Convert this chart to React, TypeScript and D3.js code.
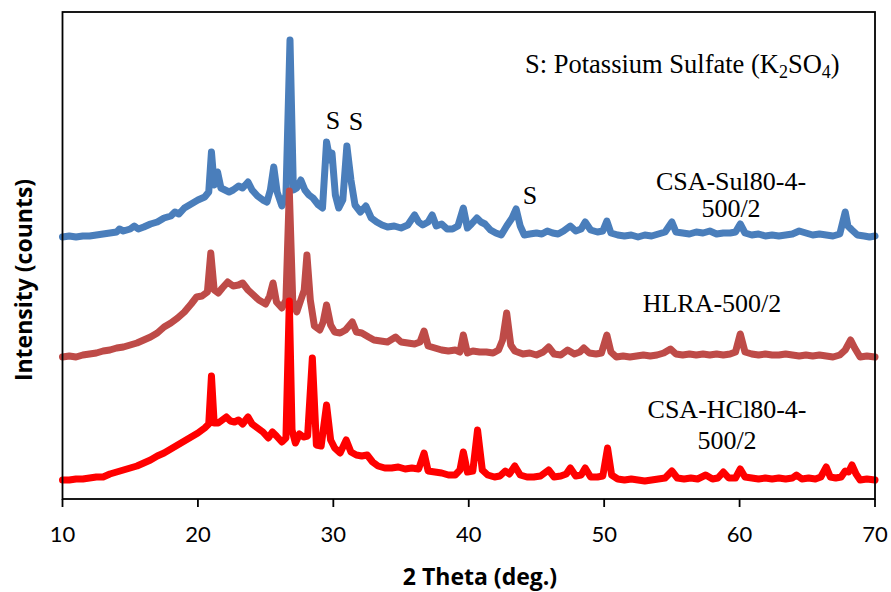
import React from "react";
import * as d3 from "d3";

// XRD patterns: [2θ (deg), intensity (a.u.)], each drawn on its own offset baseline
const sulSample: [number, number][] = [
  [10, 22], [10.5, 23], [11, 22], [11.5, 23], [12, 23], [12.5, 24], [13, 25], [13.5, 26], [14, 27], [14.2, 30],
  [14.5, 28], [15, 30], [15.3, 33], [15.6, 30], [16, 32], [16.5, 35], [17, 37], [17.5, 41], [18, 43], [18.3, 47],
  [18.6, 45], [19, 51], [19.5, 55], [20, 59], [20.5, 62], [20.8, 67], [21.0, 107], [21.2, 74], [21.45, 87], [21.7, 71],
  [22.0, 69], [22.3, 67], [22.6, 69], [23.0, 73], [23.3, 71], [23.7, 77], [24.0, 69], [24.4, 63], [24.8, 59], [25.1, 57],
  [25.35, 69], [25.6, 92], [25.85, 67], [26.2, 53], [26.5, 64], [26.8, 219], [27.05, 69], [27.3, 71], [27.6, 79], [27.9, 69],
  [28.2, 64], [28.5, 61], [28.9, 54], [29.2, 51], [29.5, 117], [29.75, 99], [29.9, 106], [30.15, 64], [30.4, 51], [30.7, 59],
  [31.0, 113], [31.3, 79], [31.6, 54], [32.0, 47], [32.4, 53], [32.8, 41], [33.2, 37], [33.6, 34], [34.0, 32], [34.5, 33],
  [35.0, 31], [35.5, 34], [36.0, 44], [36.3, 37], [36.6, 34], [37.0, 37], [37.3, 44], [37.6, 33], [38.0, 35], [38.4, 30],
  [38.8, 30], [39.2, 33], [39.6, 51], [39.9, 31], [40.2, 35], [40.6, 41], [40.9, 37], [41.2, 35], [41.6, 29], [42.0, 26],
  [42.4, 24], [42.8, 33], [43.2, 41], [43.5, 50], [43.8, 33], [44.1, 24], [44.5, 25], [45.0, 26], [45.4, 25], [45.8, 28],
  [46.2, 26], [46.6, 25], [47.0, 28], [47.5, 33], [47.9, 28], [48.3, 30], [48.6, 37], [49.0, 29], [49.5, 27], [49.9, 28],
  [50.2, 38], [50.5, 26], [51.0, 24], [51.5, 23], [52.0, 24], [52.5, 22], [53.0, 24], [53.5, 23], [54.0, 25], [54.5, 27],
  [55.0, 37], [55.3, 27], [55.8, 26], [56.3, 25], [56.8, 27], [57.3, 26], [57.8, 28], [58.3, 25], [58.8, 26], [59.3, 26],
  [59.7, 27], [60.05, 35], [60.4, 26], [60.9, 24], [61.4, 25], [61.9, 23], [62.4, 24], [62.9, 23], [63.4, 24], [63.9, 25],
  [64.4, 28], [64.9, 26], [65.4, 24], [65.9, 25], [66.4, 24], [66.9, 23], [67.4, 25], [67.8, 47], [68.0, 33], [68.3, 29],
  [68.7, 24], [69.2, 23], [69.6, 22], [70.0, 23],
];

const hlraSample: [number, number][] = [
  [10, 22], [10.5, 23], [11, 22], [11.5, 24], [12, 25], [12.5, 26], [13, 28], [13.5, 29], [14, 31], [14.5, 32],
  [15, 34], [15.5, 36], [16, 39], [16.5, 42], [17, 46], [17.5, 52], [18, 56], [18.5, 61], [19, 67], [19.5, 75],
  [19.9, 82], [20.3, 83], [20.7, 87], [20.95, 126], [21.2, 89], [21.5, 86], [21.8, 91], [22.2, 97], [22.6, 93], [23.0, 94],
  [23.3, 96], [23.7, 89], [24.1, 84], [24.5, 79], [25.0, 75], [25.3, 83], [25.55, 96], [25.8, 77], [26.2, 71], [26.5, 79],
  [26.75, 188], [27.0, 79], [27.3, 67], [27.6, 79], [27.85, 89], [28.05, 124], [28.3, 79], [28.6, 53], [29.0, 49], [29.25, 57],
  [29.5, 74], [29.8, 54], [30.1, 47], [30.5, 46], [30.9, 49], [31.4, 57], [31.7, 47], [32.1, 46], [32.6, 42], [33.0, 39],
  [33.5, 38], [34.0, 37], [34.6, 42], [35.0, 37], [35.5, 36], [36.0, 35], [36.4, 37], [36.7, 48], [37.0, 33], [37.5, 31],
  [38.0, 29], [38.5, 28], [39.0, 29], [39.35, 27], [39.6, 44], [39.9, 26], [40.3, 28], [40.8, 27], [41.3, 27], [41.8, 26],
  [42.2, 29], [42.5, 39], [42.8, 66], [43.1, 34], [43.4, 28], [44.0, 25], [44.5, 26], [45.0, 24], [45.5, 27], [45.9, 32],
  [46.3, 25], [46.8, 24], [47.3, 29], [47.8, 25], [48.2, 27], [48.5, 31], [48.9, 26], [49.4, 25], [49.8, 26], [50.2, 44],
  [50.5, 27], [50.9, 22], [51.4, 23], [51.9, 22], [52.4, 23], [52.9, 24], [53.4, 23], [53.9, 24], [54.4, 26], [54.9, 30],
  [55.3, 25], [55.8, 24], [56.3, 25], [56.8, 24], [57.3, 25], [57.8, 24], [58.3, 25], [58.8, 24], [59.3, 25], [59.7, 27],
  [60.05, 45], [60.4, 27], [60.9, 25], [61.4, 24], [61.9, 25], [62.4, 24], [62.9, 24], [63.4, 25], [63.9, 24], [64.4, 23],
  [64.9, 24], [65.4, 23], [65.9, 24], [66.4, 23], [66.9, 22], [67.4, 24], [67.8, 29], [68.2, 39], [68.5, 31], [68.9, 22],
  [69.4, 23], [70.0, 22],
];

const hclSample: [number, number][] = [
  [10, 19], [10.5, 19], [11, 20], [11.5, 20], [12, 21], [12.5, 22], [13, 22], [13.5, 25], [14, 27], [14.5, 29],
  [15, 31], [15.5, 33], [16, 36], [16.5, 39], [17, 43], [17.5, 46], [18, 50], [18.5, 54], [19, 58], [19.5, 62],
  [20, 66], [20.5, 71], [20.8, 75], [21.0, 123], [21.2, 76], [21.5, 76], [21.8, 79], [22.1, 82], [22.4, 78], [22.7, 77],
  [23.0, 79], [23.3, 75], [23.7, 82], [24.0, 75], [24.4, 71], [24.8, 67], [25.2, 61], [25.5, 67], [25.8, 63], [26.2, 57],
  [26.5, 61], [26.75, 198], [26.95, 69], [27.2, 56], [27.5, 65], [27.8, 62], [28.1, 63], [28.45, 141], [28.75, 54], [29.1, 53],
  [29.5, 94], [29.8, 59], [30.1, 51], [30.5, 46], [30.95, 59], [31.3, 47], [31.7, 44], [32.1, 43], [32.5, 44], [32.9, 37],
  [33.3, 33], [33.8, 31], [34.3, 31], [34.8, 32], [35.3, 30], [35.8, 31], [36.3, 30], [36.7, 46], [37.0, 28], [37.5, 27],
  [38.0, 26], [38.5, 24], [39.0, 24], [39.35, 29], [39.6, 47], [39.9, 27], [40.3, 28], [40.65, 69], [41.0, 29], [41.4, 24],
  [41.9, 22], [42.3, 23], [42.7, 28], [43.0, 25], [43.4, 33], [43.8, 24], [44.3, 22], [44.8, 22], [45.3, 23], [45.9, 29],
  [46.3, 22], [46.8, 23], [47.2, 25], [47.5, 31], [47.9, 23], [48.3, 24], [48.6, 31], [49.0, 22], [49.5, 22], [49.9, 23],
  [50.25, 51], [50.55, 24], [51.0, 20], [51.5, 19], [52.0, 20], [52.5, 19], [53.0, 18], [53.5, 19], [54.0, 20], [54.5, 21],
  [55.0, 28], [55.4, 21], [55.9, 20], [56.4, 21], [56.9, 20], [57.5, 24], [58.0, 20], [58.4, 21], [58.8, 27], [59.2, 21],
  [59.7, 21], [60.05, 30], [60.4, 22], [60.9, 21], [61.4, 20], [61.9, 21], [62.4, 20], [62.9, 21], [63.4, 20], [63.9, 21],
  [64.2, 24], [64.6, 20], [65.1, 21], [65.6, 20], [66.0, 22], [66.4, 32], [66.7, 22], [67.1, 21], [67.5, 22], [67.8, 28],
  [68.05, 27], [68.3, 34], [68.6, 25], [68.9, 19], [69.4, 20], [70.0, 19],
];

// vertical offsets that stack the three patterns
const seriesOffsets = [240, 120, 0];
const seriesColors = ["#4A7EBB", "#BE4B48", "#FF0000"];
const seriesData = [sulSample, hlraSample, hclSample];

const xTicks = [10, 20, 30, 40, 50, 60, 70];

const W = 891;
const H = 592;
const left = 62.5;
const right = 875;
const top = 12;
const bottom = 499;

export default function App() {
  const x = d3.scaleLinear().domain([10, 70]).range([left, right]);
  const y = d3.scaleLinear().domain([0, 487]).range([bottom, top]);

  const serif = "'Liberation Serif', 'Times New Roman', serif";
  const sans = "Lato, 'Open Sans', sans-serif";
  const titleFont = "'Open Sans', Lato, sans-serif";

  return (
    <svg
      width={W}
      height={H}
      viewBox={`0 0 ${W} ${H}`}
      style={{ position: "absolute", left: 0, top: 0, background: "#fff" }}
    >
      <rect x={0} y={0} width={W} height={H} fill="#fff" />

      {seriesData.map((data, i) => {
        const line = d3
          .line<[number, number]>()
          .x((d) => x(d[0]))
          .y((d) => y(d[1] + seriesOffsets[i]))
          .curve(d3.curveLinear);
        return (
          <path
            key={i}
            d={line(data) ?? ""}
            fill="none"
            stroke={seriesColors[i]}
            strokeWidth={7}
            strokeLinejoin="round"
            strokeLinecap="round"
          />
        );
      })}

      {/* plot frame */}
      <rect
        x={left}
        y={top}
        width={right - left}
        height={bottom - top}
        fill="none"
        stroke="#000"
        strokeWidth={1.8}
      />

      {/* x axis ticks and labels */}
      {xTicks.map((t) => (
        <g key={t}>
          <line x1={x(t)} x2={x(t)} y1={bottom} y2={bottom + 8} stroke="#000" strokeWidth={1.8} />
          <text
            x={x(t)}
            y={542}
            textAnchor="middle"
            fontFamily={sans}
            fontSize={22}
            fill="#000"
          >
            {t}
          </text>
        </g>
      ))}

      <text x={480} y={585} textAnchor="middle" fontFamily={titleFont} fontWeight="bold" fontSize={23} fill="#000">
        2 Theta (deg.)
      </text>
      <text
        transform="translate(32,280) rotate(-90)"
        textAnchor="middle"
        fontFamily={titleFont}
        fontWeight="bold"
        fontSize={23}
        fill="#000"
      >
        Intensity (counts)
      </text>

      {/* annotations */}
      <text x={525} y={73} fontFamily={serif} fontSize={26.5} fill="#000">
        S: Potassium Sulfate (K
        <tspan fontSize={18} dy={5}>2</tspan>
        <tspan dy={-5}>SO</tspan>
        <tspan fontSize={18} dy={5}>4</tspan>
        <tspan dy={-5}>)</tspan>
      </text>

      <text x={333} y={129} textAnchor="middle" fontFamily={serif} fontSize={26} fill="#000">S</text>
      <text x={356} y={130} textAnchor="middle" fontFamily={serif} fontSize={26} fill="#000">S</text>
      <text x={530} y={204} textAnchor="middle" fontFamily={serif} fontSize={26} fill="#000">S</text>

      <text textAnchor="middle" fontFamily={serif} fontSize={26} fill="#000">
        <tspan x={731} y={190}>CSA-Sul80-4-</tspan>
        <tspan x={731} y={217}>500/2</tspan>
      </text>
      <text x={712} y={312} textAnchor="middle" fontFamily={serif} fontSize={26} fill="#000">
        HLRA-500/2
      </text>
      <text textAnchor="middle" fontFamily={serif} fontSize={26} fill="#000">
        <tspan x={727} y={418}>CSA-HCl80-4-</tspan>
        <tspan x={727} y={449}>500/2</tspan>
      </text>
    </svg>
  );
}
